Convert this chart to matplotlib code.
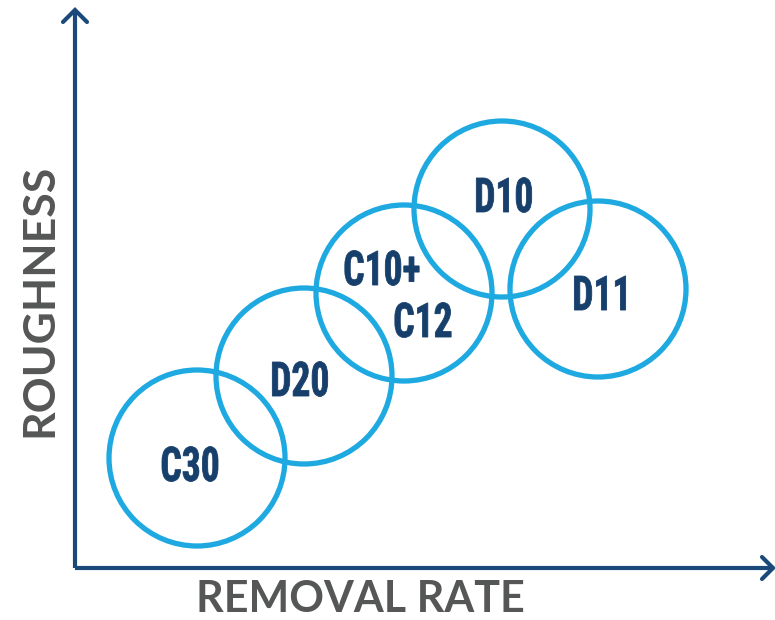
import matplotlib
matplotlib.use('Agg')
import matplotlib.pyplot as plt
from matplotlib.patches import Circle, PathPatch
from matplotlib.textpath import TextPath
from matplotlib.font_manager import FontProperties, fontManager
from matplotlib.transforms import Affine2D

# groups on the roughness / removal rate map (pixel-like units, y downwards)
labels = ['C30', 'D20', 'C10+', 'C12', 'D10', 'D11']
label_x = [190, 300, 382, 423, 504, 600]
label_y = [464, 379, 268, 320, 195, 293]

groups = ['C30', 'D20', 'C10+C12', 'D10', 'D11']
rate = [197, 304, 404, 502, 598]
rough = [458, 376, 293, 209, 289]
radius = [88, 88, 88, 88, 88]

ring_col = '#1fa9e1'
text_col = '#173f6b'
axis_col = '#1b4a7a'
grey = '#555756'

names = {f.name for f in fontManager.ttflist}
cond = 'DejaVu Sans'
for f in ['Roboto Condensed', 'Liberation Sans Narrow', 'DejaVu Sans Condensed', 'Open Sans Condensed']:
    if f in names:
        cond = f
        break
fp = FontProperties(family=cond, weight='bold', stretch='condensed')

fig = plt.figure(figsize=(7.75, 6.2), dpi=100)
ax = fig.add_axes([0, 0, 1, 1])
ax.set_xlim(0, 775)
ax.set_ylim(620, 0)
ax.axis('off')

# axes with open arrow heads
ax.plot([75, 75], [568, 10], color=axis_col, lw=3, solid_capstyle='butt')
ax.plot([63, 75, 87], [22, 10, 22], color=axis_col, lw=3, solid_capstyle='round', solid_joinstyle='miter')
ax.plot([75, 773], [568, 568], color=axis_col, lw=3, solid_capstyle='butt')
ax.plot([762, 773, 762], [557, 568, 579], color=axis_col, lw=3, solid_capstyle='round', solid_joinstyle='miter')

for i in range(len(groups)):
    ax.add_patch(Circle((rate[i], rough[i]), radius[i], fill=False, ec=ring_col, lw=3.8))

# narrow tall labels: scale glyph outlines so cap height ~34 px and C30 ~56 px wide
cap = TextPath((0, 0), 'H', size=100, prop=fp).get_extents().height
sy = 34 / cap
sx = 56 / (TextPath((0, 0), 'C30', size=100, prop=fp).get_extents().width * sy) * sy
for s, x, y in zip(labels, label_x, label_y):
    tp = TextPath((0, 0), s, size=100, prop=fp)
    bb = tp.get_extents()
    tr = Affine2D().translate(-(bb.x0 + bb.x1) / 2, -(bb.y0 + bb.y1) / 2).scale(sx, -sy).translate(x, y)
    ax.add_patch(PathPatch(tr.transform_path(tp), fc=text_col, ec=text_col, lw=0.6))

ax.text(360, 599, 'REMOVAL RATE', ha='center', va='center', fontsize=31,
        fontweight='bold', family='Lato', color=grey)
ax.text(39, 300, 'ROUGHNESS', ha='center', va='center', rotation=90, fontsize=32,
        fontweight='bold', family='Lato', color=grey)

fig.savefig('out.png', dpi=100)
